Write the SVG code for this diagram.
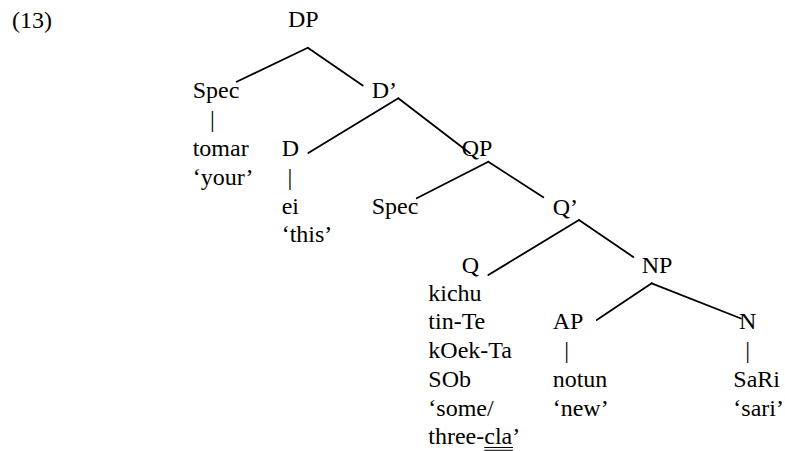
<svg xmlns="http://www.w3.org/2000/svg" width="785" height="451" viewBox="0 0 785 451">
  <style>
    text { font-family: "Liberation Serif", "Times New Roman", serif; font-size: 24px; fill: #000; }
    .edge { stroke: #000; stroke-width: 1.8; fill: none; stroke-linecap: round; }
    .uline { stroke: #000; stroke-width: 1; }
  </style>
  <rect width="785" height="451" fill="#fff"/>

  <text id="example-number" x="12" y="27.5">(13)</text>

  <!-- tree branches -->
  <g id="connectors">
    <line class="edge" x1="307.8" y1="47.7" x2="236.7" y2="81.7"/>
    <line class="edge" x1="307.8" y1="47.7" x2="362.7" y2="85.5"/>
    <line class="edge" x1="398.3" y1="98.3" x2="308.3" y2="153"/>
    <line class="edge" x1="398.3" y1="98.3" x2="470" y2="153.3"/>
    <line class="edge" x1="488.3" y1="161.7" x2="416.7" y2="198.3"/>
    <line class="edge" x1="488.3" y1="161.7" x2="543.3" y2="197.3"/>
    <line class="edge" x1="579" y1="220" x2="488.3" y2="275"/>
    <line class="edge" x1="579" y1="220" x2="633.3" y2="257"/>
    <line class="edge" x1="651.7" y1="283.3" x2="596.7" y2="320"/>
    <line class="edge" x1="651.7" y1="283.3" x2="741" y2="318.5"/>
  </g>

  <g id="node-DP"><text x="288" y="27">DP</text></g>

  <g id="node-Spec-DP">
    <text x="192.7" y="98.3">Spec</text>
    <text x="209.9" y="127.1">|</text>
    <text x="192.7" y="155.9">tomar</text>
    <text x="192.7" y="184.7">‘your’</text>
  </g>

  <g id="node-Dbar"><text x="371.7" y="98.3">D’</text></g>

  <g id="node-D">
    <text x="281.7" y="155.9">D</text>
    <text x="287.6" y="184.7">|</text>
    <text x="281.7" y="213.5">ei</text>
    <text x="281.7" y="242.3">‘this’</text>
  </g>

  <g id="node-QP"><text x="461.7" y="155.9">QP</text></g>

  <g id="node-Spec-QP"><text x="371.7" y="213.5">Spec</text></g>

  <g id="node-Qbar"><text x="552.7" y="215">Q’</text></g>

  <g id="node-Q">
    <text x="461.7" y="272.5">Q</text>
    <text x="428.3" y="300.5">kichu</text>
    <text x="428.3" y="329.3">tin-Te</text>
    <text x="428.3" y="358.1">kOek-Ta</text>
    <text x="428.3" y="386.9">SOb</text>
    <text x="428.3" y="415.7">‘some/</text>
    <text x="428.3" y="444">three-cla’</text>
    <line class="uline" x1="484.3" y1="447.5" x2="513" y2="447.5"/>
    <line class="uline" x1="484.3" y1="450.3" x2="513" y2="450.3"/>
  </g>

  <g id="node-NP"><text x="641.7" y="272.5">NP</text></g>

  <g id="node-AP">
    <text x="552.7" y="329.3">AP</text>
    <text x="564.3" y="358.1">|</text>
    <text x="552.7" y="386.9">notun</text>
    <text x="552.7" y="415.7">‘new’</text>
  </g>

  <g id="node-N">
    <text x="739" y="329.3">N</text>
    <text x="745.3" y="358.1">|</text>
    <text x="733.3" y="386.9">SaRi</text>
    <text x="733.3" y="415.7">‘sari’</text>
  </g>
</svg>
